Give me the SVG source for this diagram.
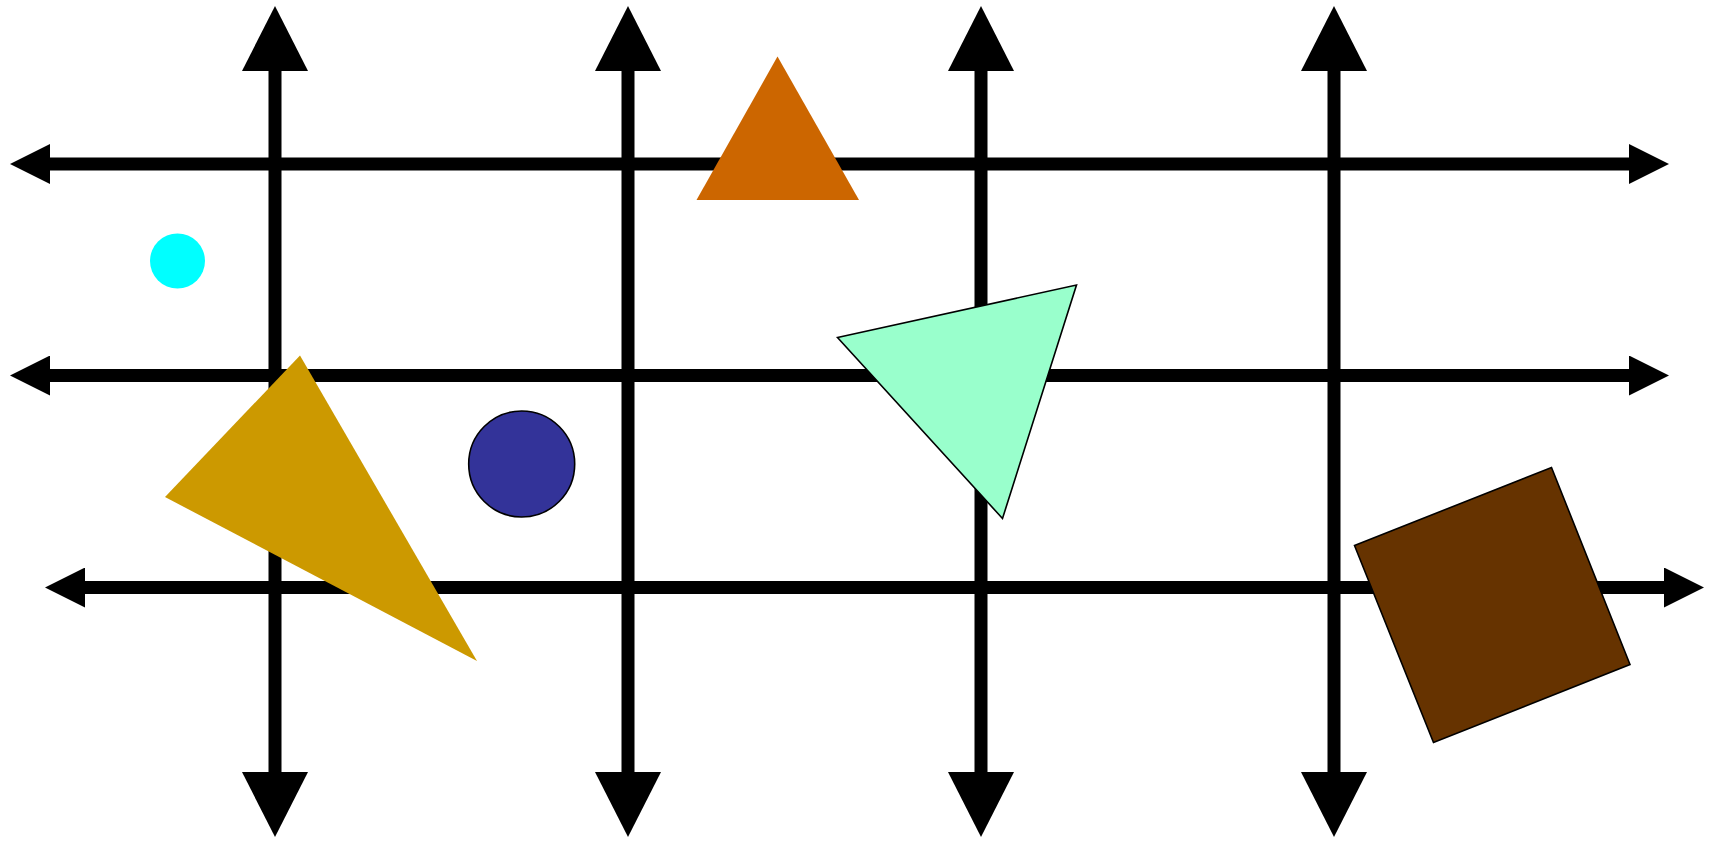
<svg xmlns="http://www.w3.org/2000/svg" width="1710" height="842" viewBox="0 0 1710 842">
  <style>
    .ax { stroke: #000; stroke-width: 13; fill: none; }
    .v { marker-start: url(#vh); marker-end: url(#vh); }
    .h { marker-start: url(#hh); marker-end: url(#hh); }
    .outl { stroke: #000; stroke-width: 1.6; }
  </style>
  <defs>
    <marker id="vh" markerUnits="userSpaceOnUse" viewBox="0 0 65 66" refX="0" refY="33" markerWidth="65" markerHeight="66" orient="auto-start-reverse">
      <path d="M0,0 L65,33 L0,66 z" fill="#000"/>
    </marker>
    <marker id="hh" markerUnits="userSpaceOnUse" viewBox="0 0 40 40" refX="0" refY="20" markerWidth="40" markerHeight="40" orient="auto-start-reverse">
      <path d="M0,0 L40,20 L0,40 z" fill="#000"/>
    </marker>
  </defs>
  <rect width="1710" height="842" fill="#fff"/>
  <g id="connectors">
    <line class="ax v" x1="275" y1="71" x2="275" y2="772"/>
    <line class="ax v" x1="628" y1="71" x2="628" y2="772"/>
    <line class="ax v" x1="981" y1="71" x2="981" y2="772"/>
    <line class="ax v" x1="1334" y1="71" x2="1334" y2="772"/>
    <line class="ax h" x1="50" y1="164" x2="1629" y2="164"/>
    <line class="ax h" x1="50" y1="375.5" x2="1629" y2="375.5"/>
    <line class="ax h" x1="85" y1="587.5" x2="1664" y2="587.5"/>
  </g>
  <g id="cyan-circle"><circle cx="177.5" cy="261" r="27.5" fill="#00FFFF"/></g>
  <g id="orange-triangle"><polygon points="777.5,56.5 696.5,200 859,200" fill="#CC6600"/></g>
  <g id="gold-triangle"><polygon points="300,355.5 165,497 477,661" fill="#CC9900"/></g>
  <g id="blue-circle"><circle cx="521.7" cy="464" r="53" fill="#333399" class="outl"/></g>
  <g id="green-triangle"><polygon points="837.5,337.5 1076.5,285 1002.5,518.5" fill="#99FFCC" class="outl"/></g>
  <g id="brown-square"><polygon points="1354.5,545.5 1551.5,467.5 1630,664.5 1433.5,742.5" fill="#663300" class="outl"/></g>
</svg>
